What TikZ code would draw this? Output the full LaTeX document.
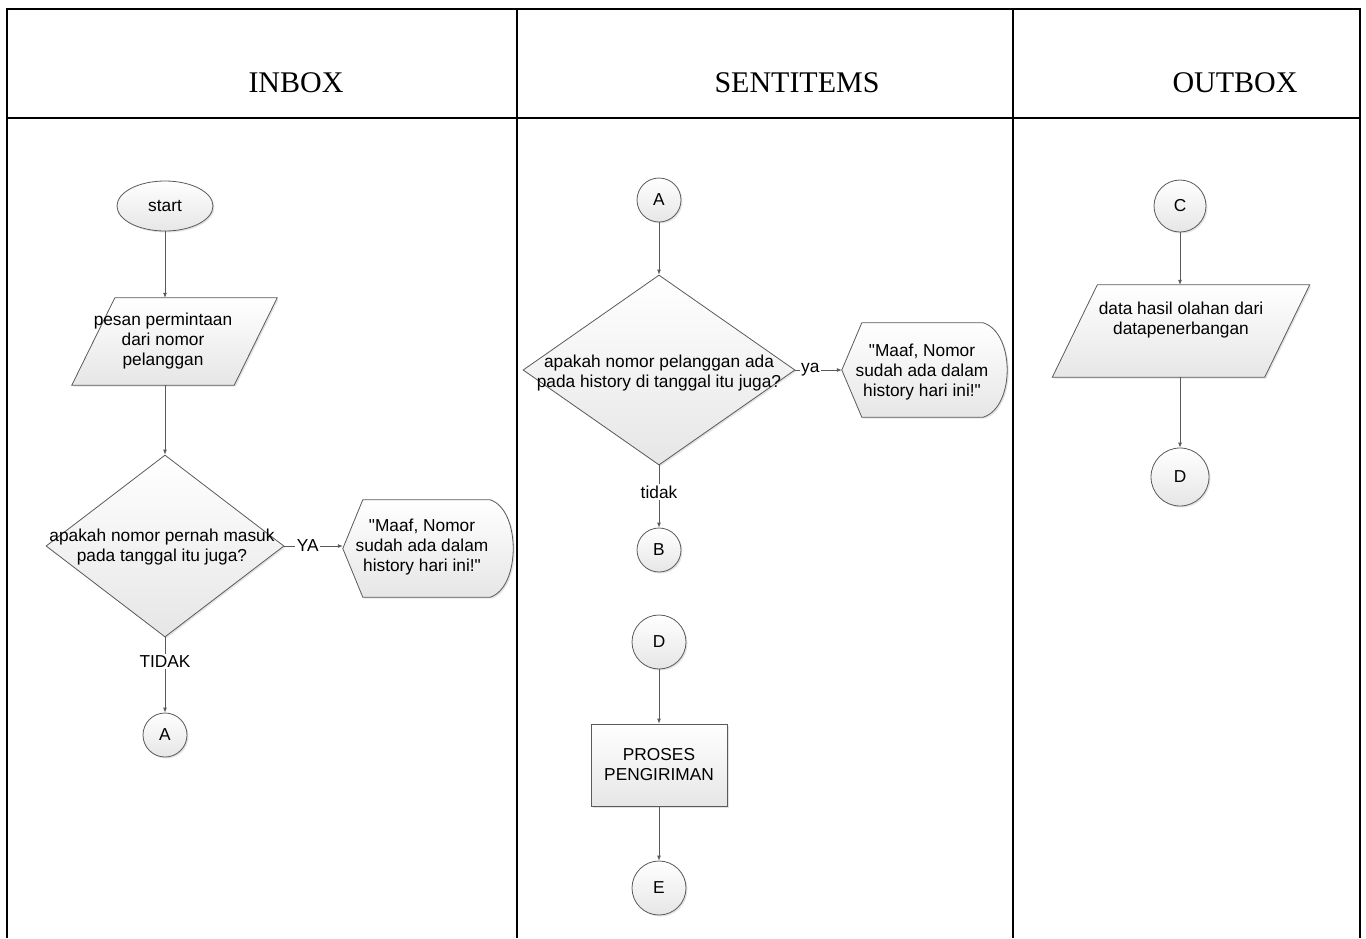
\documentclass[tikz,border=0pt]{standalone}
\usepackage{fontspec}
\setmainfont{Liberation Serif}
\newfontfamily\arialf{Liberation Sans}
\usetikzlibrary{shapes.geometric,arrows.meta,shadows,calc,backgrounds}
\definecolor{linegray}{HTML}{5A5A5A}
\definecolor{shapegray}{HTML}{E6E6E6}
\tikzset{
  frm/.style={line width=2.2pt, draw=black},
  shp/.style={draw=linegray, line width=0.8pt, top color=white, bottom color=shapegray,
    drop shadow={shadow xshift=1.5pt, shadow yshift=-1.5pt, opacity=0.22}},
  txt/.style={font=\arialf\fontsize{17.3}{20}\selectfont, align=center, text=black},
  conn/.style={draw=linegray, line width=0.8pt, -{Latex[length=5pt,width=4pt]}},
  lbl/.style={txt, fill=white, inner sep=1.5pt},
  onpage/.style={circle, inner sep=0pt, shp, txt},
  hdr/.style={font=\fontsize{30}{36}\selectfont},
  ghost/.style={rectangle, inner sep=0pt, draw=none},
}
\begin{document}
\begin{tikzpicture}[x=1pt,y=-1pt]
\useasboundingbox (0,0) rectangle (1366,938);
% frame
\draw[frm] (7,938) -- (7,9) -- (1360,9) -- (1360,938);
\draw[frm] (7,118) -- (1360,118);
\draw[frm] (517,9) -- (517,938);
\draw[frm] (1013,9) -- (1013,938);
\node[hdr] (h1) at (296,83) {INBOX};
\node[hdr] (h2) at (797,83) {SENTITEMS};
\node[hdr] (h3) at (1235,83) {OUTBOX};

% ---------------- INBOX ----------------
\node[shp, ellipse, txt, minimum width=96pt, minimum height=50pt, inner sep=0pt] (start) at (165,206) {start};
\node[ghost, minimum width=162pt, minimum height=87pt,
  label={[txt, xshift=-11.5pt]center:pesan permintaan\\dari nomor\\pelanggan}] (p1) at (174.5,341.5) {};
\begin{pgfonlayer}{background}
\path[shp] ([xshift=21.5pt]p1.north west) -- ([xshift=21.5pt]p1.north east)
  -- ([xshift=-21.5pt]p1.south east) -- ([xshift=-21.5pt]p1.south west) -- cycle;
\end{pgfonlayer}
\node[shp, diamond, minimum width=238pt, minimum height=182pt, inner sep=0pt,
  label={[txt, xshift=-3pt, yshift=-1pt]center:apakah nomor pernah masuk\\pada tanggal itu juga?}] (dia1) at (165,546) {};
\node[ghost, minimum width=147pt, minimum height=97pt,
  label={[txt, xshift=5.5pt, yshift=1.5pt]center:"Maaf, Nomor\\sudah ada dalam\\history hari ini!"}] (d1) at (416.5,548.5) {};
\begin{pgfonlayer}{background}
\path[shp] (d1.west) -- ([xshift=20pt]d1.north west) -- (d1.north east)
  .. controls +(30.7,10) and +(30.7,-10) .. (d1.south east)
  -- ([xshift=20pt]d1.south west) -- cycle;
\end{pgfonlayer}
\node[onpage, minimum size=44pt] (A1) at (165,735) {A};

\draw[conn] (start) -- (start |- p1.north);
\draw[conn] (p1.south -| dia1.north) -- (dia1.north);
\draw[conn] (dia1.east) -- node[lbl, pos=0.4] {YA} (dia1.east -| d1.west);
\draw[conn] (dia1.south) -- node[lbl, pos=0.32] {TIDAK} (A1.north);

% ---------------- SENTITEMS ----------------
\node[onpage, minimum size=44pt] (A2) at (659,200) {A};
\node[shp, diamond, minimum width=272pt, minimum height=190pt, inner sep=0pt,
  label={[txt, yshift=-3pt]center:apakah nomor pelanggan ada\\pada history di tanggal itu juga?}] (dia2) at (659,370) {};
\node[ghost, minimum width=141pt, minimum height=94pt,
  label={[txt, xshift=9.5pt, yshift=-2pt]center:"Maaf, Nomor\\sudah ada dalam\\history hari ini!"}] (d2) at (912.5,370) {};
\begin{pgfonlayer}{background}
\path[shp] (d2.west) -- ([xshift=20pt]d2.north west) -- (d2.north east)
  .. controls +(32,10) and +(32,-10) .. (d2.south east)
  -- ([xshift=20pt]d2.south west) -- cycle;
\end{pgfonlayer}
\node[onpage, minimum size=44pt] (B) at (659,550) {B};
\node[onpage, minimum size=54pt] (D2) at (659,642) {D};
\node[shp, rectangle, txt, minimum width=136pt, minimum height=82pt] (box) at (659,765) {PROSES\\PENGIRIMAN};
\node[onpage, minimum size=54pt] (E) at (659,888) {E};

\draw[conn] (A2) -- (dia2.north);
\draw[conn] (dia2.east) -- node[lbl, pos=0.32] {ya} (d2.west);
\draw[conn] (dia2.south) -- node[lbl, pos=0.43] {tidak} (B.north);
\draw[conn] (D2) -- (box);
\draw[conn] (box) -- (E);

% ---------------- OUTBOX ----------------
\node[onpage, minimum size=52pt] (C) at (1180,206) {C};
\node[ghost, minimum width=212pt, minimum height=92pt,
  label={[txt, yshift=11pt]center:data hasil olahan dari\\datapenerbangan}] (p2) at (1181,331) {};
\begin{pgfonlayer}{background}
\path[shp] ([xshift=22.5pt]p2.north west) -- ([xshift=22.5pt]p2.north east)
  -- ([xshift=-22.5pt]p2.south east) -- ([xshift=-22.5pt]p2.south west) -- cycle;
\end{pgfonlayer}
\node[onpage, minimum size=58pt] (D3) at (1180,477) {D};

\draw[conn] (C) -- (C |- p2.north);
\draw[conn] (C |- p2.south) -- (D3);
\end{tikzpicture}
\end{document}
